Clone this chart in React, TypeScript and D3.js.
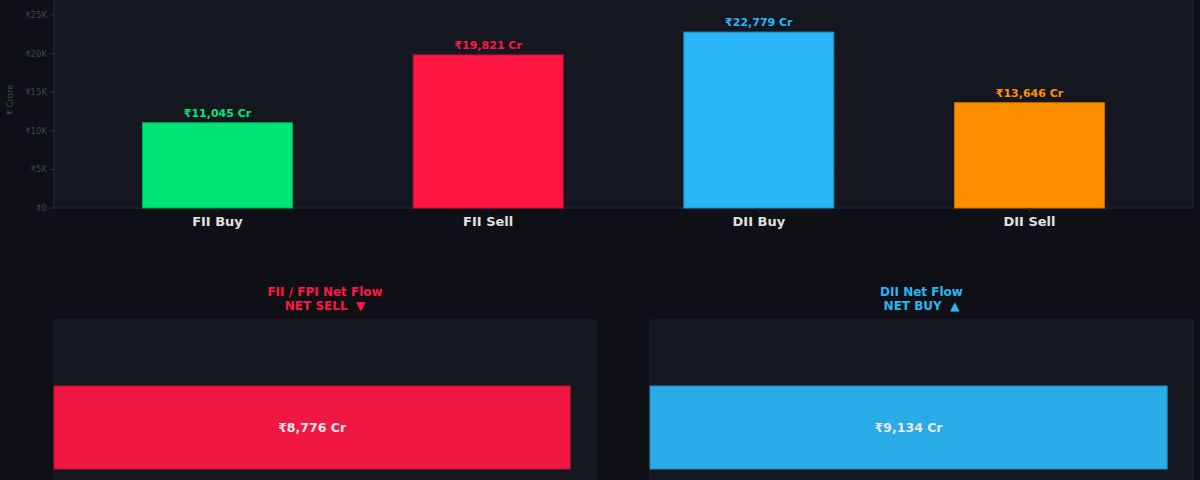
import React from "react";
import * as d3 from "d3";

const categories = ["FII Buy", "FII Sell", "DII Buy", "DII Sell"];
const values = [11045, 19821, 22779, 13646];
const colors = ["#00e676", "#ff1744", "#29b6f6", "#ff8f00"];
const strokes = ["#00a854", "#c4102f", "#1a8fc4", "#c46a00"];
const yTicks = [0, 5000, 10000, 15000, 20000, 25000];

const netTitles = ["FII / FPI Net Flow", "DII Net Flow"];
const netLabels = ["NET SELL\u00a0\u00a0▼", "NET BUY\u00a0\u00a0▲"];
const netValues = [8776, 9134];
const netColors = ["#f01742", "#29abe8"];
const netTitleColors = ["#ff1744", "#29b6f6"];

const W = 1200;
const H = 480;
const FONT = "'DejaVu Sans', sans-serif";

const fmt = (v: number) => "₹" + d3.format(",")(v) + " Cr";
const tickFmt = (v: number) => (v === 0 ? "₹0" : "₹" + v / 1000 + "K");

export default function App() {
  const plot = { left: 54, right: 1193, top: 0, bottom: 208 };
  const x = d3
    .scaleBand<string>()
    .domain(categories)
    .range([plot.left, plot.right])
    .paddingInner(0.446)
    .paddingOuter(0.327);
  const y = d3.scaleLinear().domain([0, 26940]).range([plot.bottom, plot.top]);

  const panels = [
    { left: 54, right: 596 },
    { left: 650, right: 1193 },
  ];
  const panelTop = 320;
  const panelBottom = 535;

  return (
    <svg
      width={W}
      height={H}
      style={{ position: "absolute", left: 0, top: 0, display: "block" }}
    >
      <rect x={0} y={0} width={W} height={H} fill="#0f1015" />
      {/* top plot area */}
      <rect
        x={plot.left}
        y={plot.top - 2}
        width={plot.right - plot.left}
        height={plot.bottom - plot.top + 2}
        fill="#141720"
        stroke="#1d2130"
        strokeWidth={1}
      />
      {yTicks.map((t) => (
        <g key={t}>
          <line
            x1={plot.left}
            x2={plot.right}
            y1={y(t)}
            y2={y(t)}
            stroke="#1c2030"
            strokeWidth={1}
            strokeDasharray={t === 0 ? undefined : "2,2"}
          />
          <line x1={plot.left - 5} x2={plot.left} y1={y(t)} y2={y(t)} stroke="#2a3040" />
          <text
            x={plot.left - 7}
            y={y(t)}
            dy="0.35em"
            textAnchor="end"
            fontFamily={FONT}
            fontSize={8.5}
            fill="#3e4556"
          >
            {tickFmt(t)}
          </text>
        </g>
      ))}
      <line x1={plot.left} x2={plot.left} y1={plot.top} y2={plot.bottom} stroke="#232838" />
      <text
        transform={`translate(13,${(plot.top + plot.bottom) / 2 - 4}) rotate(-90)`}
        textAnchor="middle"
        fontFamily={FONT}
        fontSize={8.5}
        fill="#3e4556"
      >
        ₹ Crore
      </text>
      {categories.map((c, i) => {
        const bx = x(c)!;
        const bw = x.bandwidth();
        return (
          <g key={c}>
            <rect
              x={bx}
              y={y(values[i])}
              width={bw}
              height={y(0) - y(values[i])}
              fill={colors[i]}
              stroke={strokes[i]}
              strokeWidth={1}
            />
            <text
              x={bx + bw / 2}
              y={y(values[i]) - 6}
              textAnchor="middle"
              fontFamily={FONT}
              fontWeight="bold"
              fontSize={11}
              fill={colors[i]}
            >
              {fmt(values[i])}
            </text>
            <line
              x1={bx + bw / 2}
              x2={bx + bw / 2}
              y1={plot.bottom}
              y2={plot.bottom + 4}
              stroke="#2a3040"
            />
            <text
              x={bx + bw / 2}
              y={plot.bottom + 18}
              textAnchor="middle"
              fontFamily={FONT}
              fontWeight="bold"
              fontSize={13}
              fill="#e0e0e0"
            >
              {c}
            </text>
          </g>
        );
      })}
      {/* bottom panels */}
      {panels.map((p, i) => {
        const xs = d3
          .scaleLinear()
          .domain([0, netValues[i] * 1.05])
          .range([p.left, p.right]);
        const ys = d3
          .scaleBand<string>()
          .domain([netTitles[i]])
          .range([panelTop, panelBottom])
          .padding(0.443);
        const by = ys(netTitles[i])!;
        const bh = ys.bandwidth();
        const cx = (p.left + p.right) / 2;
        return (
          <g key={i}>
            <text
              x={cx}
              y={296}
              textAnchor="middle"
              fontFamily={FONT}
              fontWeight="bold"
              fontSize={12}
              fill={netTitleColors[i]}
            >
              {netTitles[i]}
            </text>
            <text
              x={cx}
              y={310}
              textAnchor="middle"
              fontFamily={FONT}
              fontWeight="bold"
              fontSize={12}
              fill={netTitleColors[i]}
              style={{ whiteSpace: "pre" }}
            >
              {netLabels[i]}
            </text>
            <rect
              x={p.left}
              y={panelTop}
              width={p.right - p.left}
              height={panelBottom - panelTop}
              fill="#141720"
              stroke="#1d2130"
              strokeWidth={1}
            />
            <rect
              x={xs(0)}
              y={by}
              width={xs(netValues[i]) - xs(0)}
              height={bh}
              fill={netColors[i]}
              stroke={strokes[i === 0 ? 1 : 2]}
              strokeWidth={1}
            />
            <text
              x={(xs(0) + xs(netValues[i])) / 2}
              y={by + bh / 2}
              dy="0.35em"
              textAnchor="middle"
              fontFamily={FONT}
              fontWeight="bold"
              fontSize={12.5}
              fill="#e8e8e8"
            >
              {fmt(netValues[i])}
            </text>
          </g>
        );
      })}
    </svg>
  );
}
